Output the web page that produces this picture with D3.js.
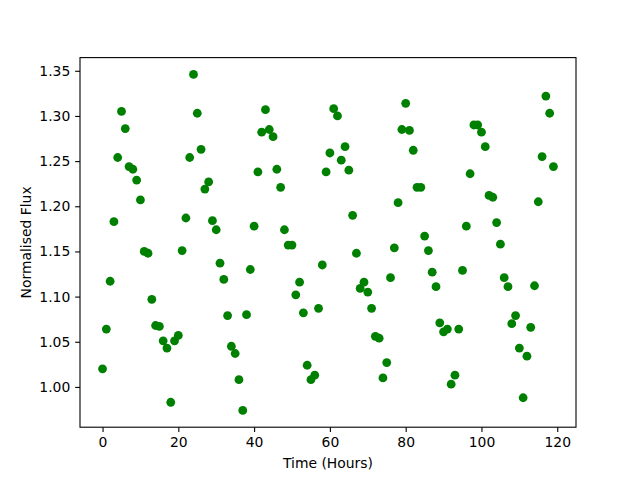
<!DOCTYPE html>
<html>
<head>
<meta charset="utf-8">
<script src="https://cdn.jsdelivr.net/npm/d3@7"></script>
<style>
  body { margin: 0; background: #fff; }
  svg text { font-family: "DejaVu Sans", sans-serif; }
</style>
</head>
<body>
<div id="chart"></div>
<script>
// hours sampled once per hour
const hours = d3.range(0, 120);
const flux = [
  1.020, 1.064, 1.117, 1.183, 1.254, 1.305, 1.286, 1.244, 1.241, 1.229,
  1.207, 1.150, 1.148, 1.097, 1.068, 1.067, 1.051, 1.043, 0.983, 1.051,
  1.057, 1.151, 1.187, 1.254, 1.346, 1.303, 1.263, 1.219, 1.227, 1.184,
  1.174, 1.137, 1.119, 1.079, 1.045, 1.037, 1.008, 0.974, 1.080, 1.130,
  1.178, 1.238, 1.282, 1.307, 1.285, 1.277, 1.241, 1.221, 1.174, 1.157,
  1.157, 1.102, 1.116, 1.082, 1.024, 1.008, 1.013, 1.087, 1.135, 1.238,
  1.259, 1.308, 1.300, 1.251, 1.266, 1.240, 1.190, 1.148, 1.109, 1.116,
  1.105, 1.087, 1.056, 1.054, 1.010, 1.027, 1.121, 1.154, 1.204, 1.285,
  1.314, 1.284, 1.262, 1.221, 1.221, 1.167, 1.151, 1.127, 1.111, 1.071,
  1.061, 1.064, 1.003, 1.013, 1.064, 1.129, 1.178, 1.236, 1.290, 1.290,
  1.282, 1.266, 1.212, 1.210, 1.182, 1.158, 1.121, 1.111, 1.070, 1.079,
  1.043, 0.988, 1.034, 1.066, 1.112, 1.205, 1.255, 1.322, 1.303, 1.244
];
const xTicks = [0, 20, 40, 60, 80, 100, 120];
const yTicks = [1.00, 1.05, 1.10, 1.15, 1.20, 1.25, 1.30, 1.35];

const width = 640, height = 480;
const margin = { top: 57.6, right: 64, bottom: 52.8, left: 80 };
const innerW = width - margin.left - margin.right;
const innerH = height - margin.top - margin.bottom;
const tick = 4.86;

const svg = d3.select("#chart")
  .append("svg")
  .attr("width", width)
  .attr("height", height);

const g = svg.append("g")
  .attr("transform", "translate(" + margin.left + "," + margin.top + ")");

// 5% padding on each side, like matplotlib's autoscale
const pad = (ext) => { const r = ext[1] - ext[0]; return [ext[0] - 0.05 * r, ext[1] + 0.05 * r]; };

const x = d3.scaleLinear()
  .domain(pad(d3.extent(hours)))
  .range([0, innerW]);

const y = d3.scaleLinear()
  .domain(pad(d3.extent(flux)))
  .range([innerH, 0]);

// points
g.selectAll("circle")
  .data(hours)
  .enter()
  .append("circle")
  .attr("cx", d => x(d))
  .attr("cy", (d, i) => y(flux[i]))
  .attr("r", 4.4)
  .attr("fill", "#008000");

// axes
const xAxis = g.append("g")
  .attr("transform", "translate(0," + innerH + ")")
  .call(d3.axisBottom(x).tickValues(xTicks).tickFormat(d3.format("d"))
    .tickSize(tick).tickSizeOuter(0).tickPadding(tick));

const yAxis = g.append("g")
  .call(d3.axisLeft(y).tickValues(yTicks).tickFormat(d3.format(".2f"))
    .tickSize(tick).tickSizeOuter(0).tickPadding(tick));

[xAxis, yAxis].forEach(a => {
  a.select(".domain").remove();
  a.selectAll("line").attr("stroke", "#000").attr("stroke-width", 1.1);
  a.selectAll("text").attr("fill", "#000").style("font-size", "13.9px");
});

// frame
g.append("rect")
  .attr("width", innerW)
  .attr("height", innerH)
  .attr("fill", "none")
  .attr("stroke", "#000")
  .attr("stroke-width", 1.1);

// labels
svg.append("text")
  .attr("x", margin.left + innerW / 2)
  .attr("y", 468)
  .attr("text-anchor", "middle")
  .style("font-size", "13.9px")
  .text("Time (Hours)");

svg.append("text")
  .attr("transform", "translate(31," + (margin.top + innerH / 2) + ") rotate(-90)")
  .attr("text-anchor", "middle")
  .style("font-size", "13.9px")
  .text("Normalised Flux");
</script>
</body>
</html>
